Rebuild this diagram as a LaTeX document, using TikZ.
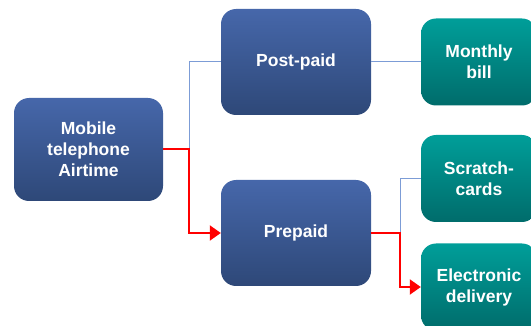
\documentclass[tikz,border=0pt]{standalone}
\usepackage{fontspec}
\setmainfont{Liberation Sans}
\usetikzlibrary{arrows.meta}
\definecolor{btop}{HTML}{4667AA}
\definecolor{bbot}{HTML}{2E4878}
\definecolor{ttop}{HTML}{009E99}
\definecolor{tbot}{HTML}{006C6B}
\definecolor{lblue}{HTML}{7C9CD6}
\tikzset{
  box/.style={rectangle, rounded corners=15pt, inner sep=2pt, align=center,
    text=white, font=\fontsize{17.5}{21}\selectfont\bfseries},
  bluebox/.style={box, top color=btop, bottom color=bbot, minimum width=150pt, minimum height=106pt},
  tealbox/.style={box, top color=ttop, bottom color=tbot, minimum width=116pt, minimum height=87pt},
  thinline/.style={draw=lblue, line width=1pt},
  redline/.style={draw=red, line width=2pt, -{Triangle[length=11pt,width=15pt]}},
}
\begin{document}
\begin{tikzpicture}[x=1pt,y=-1pt]
\useasboundingbox (0,0) rectangle (531,326);
\node[bluebox, minimum width=149pt, minimum height=103pt] (mob) at (88.5,149.5) {Mobile\\telephone\\Airtime};
\node[bluebox] (post) at (296,62) {Post-paid};
\node[bluebox] (pre) at (296,233) {Prepaid};
\node[tealbox] (bill) at (479,62) {Monthly\\bill};
\node[tealbox] (scr) at (479,178.5) {Scratch-\\cards};
\node[tealbox] (ele) at (479,287) {Electronic\\delivery};
\coordinate (c1) at (189,149.5);
\coordinate (c2) at (400,233);
\draw[thinline] (c1) |- (post.west);
\draw[thinline] (post.east) -- (bill.west);
\draw[thinline] (c2) |- (scr.west);
\draw[redline] (mob.east) -- (c1) |- (pre.west);
\draw[redline] (pre.east) -- (c2) |- (ele.west);
\end{tikzpicture}
\end{document}
